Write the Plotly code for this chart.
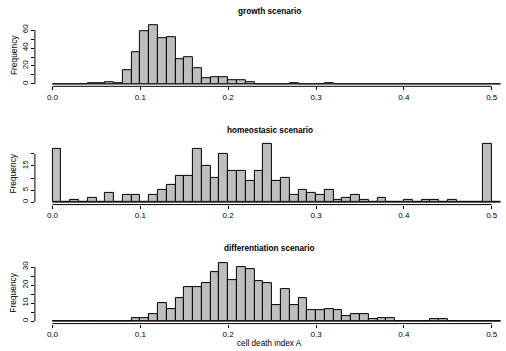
import numpy as np
import plotly.graph_objects as go

# ---------------- data ----------------
bin_width = 0.01
bin_edges = [round(i * 0.01, 2) for i in range(52)]  # 0.00 .. 0.51

titles = ["growth scenario", "homeostasic scenario", "differentiation scenario"]

# counts per 0.01 bin starting at 0.00 (51 bins)
growth_counts = [0, 0, 0, 0, 1, 1, 2, 1, 15, 35,
                 59, 65, 51, 52, 28, 30, 18, 6, 8, 7,
                 4, 4, 2, 0, 0, 0, 0, 1, 0, 0,
                 0, 1, 0, 0, 0, 0, 0, 0, 0, 0,
                 0, 0, 0, 0, 0, 0, 0, 0, 0, 0,
                 0]
homeo_counts = [22, 0, 1, 0, 2, 0, 4, 0, 3, 3,
                0, 3, 5, 7, 11, 11, 22, 15, 10, 20,
                13, 13, 9, 13, 24, 9, 10, 3, 5, 4,
                3, 5, 1, 2, 3, 1, 0, 2, 0, 0,
                1, 0, 1, 1, 0, 1, 0, 0, 0, 24,
                0]
diff_counts = [0, 0, 0, 0, 0, 0, 0, 0, 0, 2,
               2, 4, 10, 7, 13, 19, 19, 21, 27, 32,
               23, 30, 29, 22, 21, 9, 18, 9, 13, 6,
               6, 7, 6, 3, 4, 4, 1, 2, 2, 0,
               0, 0, 0, 1, 1, 0, 0, 0, 0, 0,
               0]
all_counts = [growth_counts, homeo_counts, diff_counts]

x_tickvals = [0.0, 0.1, 0.2, 0.3, 0.4, 0.5]
x_ticktext = ["0.0", "0.1", "0.2", "0.3", "0.4", "0.5"]

y_tickvals = [[0, 10, 20, 30, 40, 50, 60],
              [0, 5, 10, 15, 20],
              [0, 5, 10, 15, 20, 25, 30]]
y_ticktext = [["0", "", "20", "", "40", "", "60"],
              ["0", "5", "", "15", ""],
              ["0", "", "10", "", "20", "", "30"]]

xlabel = "cell death index A"
ylabel = "Frequency"

# ---------------- layout geometry (pixels) ----------------
W, H = 506, 351
FONT = "Liberation Sans, Arial, sans-serif"
x_left_px, x_right_px = 34.9, 504.9
x_range = [-0.02, 0.515]
panel_px = [(23.2, 86.3), (141.9, 204.6), (261.1, 323.6)]  # (top, bottom)
title_px = [12.0, 130.7, 248.3]

fig = go.Figure()
centers = [round(bin_edges[i] + bin_width / 2, 3) for i in range(len(bin_edges) - 1)]

for k in range(3):
    ax = "" if k == 0 else str(k + 1)
    xname, yname = "x" + ax, "y" + ax
    counts = all_counts[k]
    fig.add_trace(go.Bar(
        x=centers, y=counts, width=bin_width,
        marker=dict(color="#BEBEBE", line=dict(color="#000000", width=1)),
        xaxis=xname, yaxis=yname, showlegend=False, hoverinfo="x+y"))
    # zero-height bins drawn as a baseline
    fig.add_trace(go.Scatter(
        x=[bin_edges[0], bin_edges[-1]], y=[0, 0], mode="lines",
        line=dict(color="#333333", width=1),
        xaxis=xname, yaxis=yname, showlegend=False, hoverinfo="skip"))

    top, bot = panel_px[k]
    ymax = max(counts)
    yr = [-0.04 * ymax, 1.04 * ymax]
    fig.layout["xaxis" + ax] = dict(
        domain=[x_left_px / W, x_right_px / W], range=x_range,
        anchor=yname, tickvals=x_tickvals, ticktext=x_ticktext,
        ticks="outside", ticklen=3, tickwidth=1, tickcolor="black",
        showgrid=False, zeroline=False, showline=False,
        tickfont=dict(family=FONT, size=8, color="black"))
    fig.layout["yaxis" + ax] = dict(
        domain=[1 - bot / H, 1 - top / H], range=yr,
        anchor=xname, tickvals=y_tickvals[k], ticktext=y_ticktext[k],
        ticks="outside", ticklen=3, tickwidth=1, tickcolor="black",
        tickangle=-90,
        showgrid=False, zeroline=False, showline=False,
        tickfont=dict(family=FONT, size=8, color="black"))
    # axis lines spanning first..last tick (R style)
    fig.add_shape(type="line", xref=xname, yref=yname + " domain",
                  x0=x_tickvals[0], x1=x_tickvals[-1], y0=0, y1=0,
                  line=dict(color="black", width=1))
    fig.add_shape(type="line", xref=xname + " domain", yref=yname,
                  x0=0, x1=0, y0=y_tickvals[k][0], y1=y_tickvals[k][-1],
                  line=dict(color="black", width=1))
    # panel title
    fig.add_annotation(text="<b>" + titles[k] + "</b>", xref="paper", yref="paper",
                       x=(x_left_px + x_right_px) / 2 / W, y=1 - title_px[k] / H,
                       showarrow=False, xanchor="center", yanchor="middle",
                       font=dict(family=FONT, size=8.2, color="black"))
    # y label
    fig.add_annotation(text=ylabel, xref="paper", yref="paper",
                       x=13.3 / W, y=1 - (top + bot) / 2 / H, textangle=-90,
                       showarrow=False, xanchor="center", yanchor="middle",
                       font=dict(family=FONT, size=8.4, color="black"))

fig.add_annotation(text=xlabel, xref="paper", yref="paper",
                   x=(x_left_px + x_right_px) / 2 / W, y=1 - 343 / H,
                   showarrow=False, xanchor="center", yanchor="middle",
                   font=dict(family=FONT, size=8.2, color="black"))

fig.update_layout(width=W, height=H, margin=dict(l=0, r=0, t=0, b=0),
                  paper_bgcolor="white", plot_bgcolor="white", bargap=0)

fig.write_html("out.html", config={"displayModeBar": False},
               post_script="document.body.style.margin='0';document.body.style.padding='0';")
